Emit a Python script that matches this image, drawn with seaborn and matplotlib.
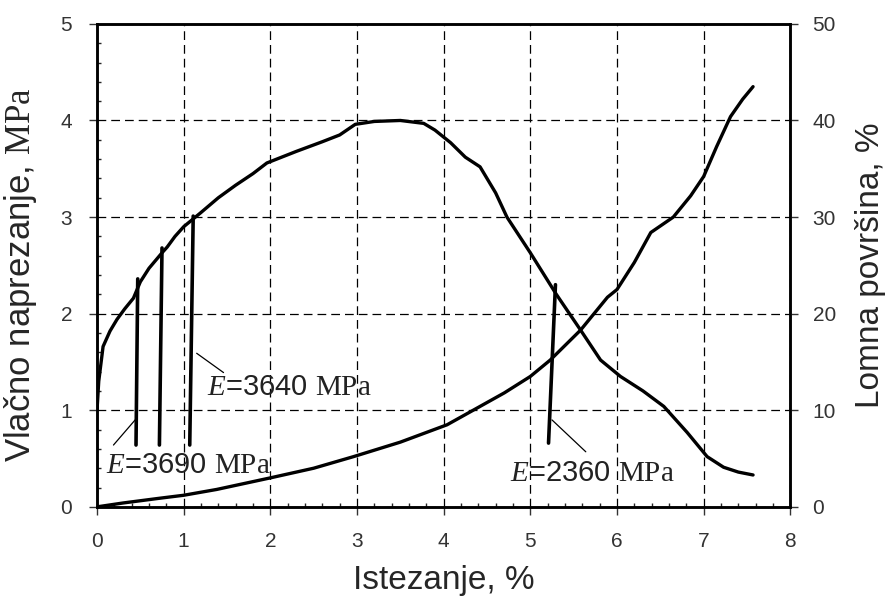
import matplotlib
matplotlib.use("Agg")
import matplotlib.pyplot as plt
from matplotlib.ticker import MultipleLocator
import pandas as pd
import seaborn as sns

# stress-strain curve (left axis)
strain_s = [0.0, 0.02, 0.07, 0.15, 0.23, 0.32, 0.42, 0.5, 0.6, 0.75, 0.81, 0.9, 1.0, 1.19,
            1.4, 1.6, 1.8, 1.96, 2.3, 2.6, 2.8, 2.98, 3.2, 3.5, 3.77, 3.9, 4.08, 4.25,
            4.42, 4.6, 4.73, 5.0, 5.3, 5.58, 5.81, 6.04, 6.3, 6.54, 6.81, 7.04, 7.23,
            7.4, 7.57]
stress = [1.0, 1.3, 1.66, 1.82, 1.94, 2.05, 2.16, 2.33, 2.47, 2.63, 2.69, 2.8, 2.9, 3.04,
          3.2, 3.33, 3.45, 3.56, 3.68, 3.78, 3.85, 3.96, 3.99, 4.0, 3.97, 3.9, 3.77, 3.62,
          3.52, 3.25, 3.0, 2.63, 2.2, 1.83, 1.52, 1.35, 1.2, 1.04, 0.77, 0.52, 0.41,
          0.36, 0.33]

# fracture area curve (right axis)
strain_a = [0.0, 0.3, 0.73, 1.0, 1.38, 2.0, 2.5, 2.96, 3.5, 4.04, 4.42, 4.7, 5.0, 5.23,
            5.58, 5.89, 6.0, 6.2, 6.39, 6.65, 6.85, 7.0, 7.15, 7.31, 7.45, 7.57]
area = [0.0, 0.4, 0.9, 1.2, 1.8, 3.0, 4.0, 5.2, 6.7, 8.5, 10.4, 11.8, 13.5, 15.2,
        18.3, 21.7, 22.5, 25.3, 28.4, 30.0, 32.2, 34.2, 37.3, 40.4, 42.2, 43.5]

# modulus lines: (x_bottom, y_bottom, x_top, y_top)
mod_lines = [(0.45, 0.64, 0.47, 2.36),
             (0.72, 0.64, 0.75, 2.68),
             (1.07, 0.64, 1.11, 3.01),
             (5.21, 0.66, 5.29, 2.3)]

# labels: text, text x, text y, leader start, leader end
labels = [("$E$=3640 $\\mathrm{MPa}$", 1.27, 1.24, (1.15, 1.59), (1.46, 1.39)),
          ("$E$=3690 $\\mathrm{MPa}$", 0.1, 0.43, (0.44, 0.9), (0.19, 0.64)),
          ("$E$=2360 $\\mathrm{MPa}$", 4.77, 0.35, (5.25, 0.9), (5.64, 0.57))]

sns.set_theme(style="white")
plt.rcParams['font.family'] = ['Liberation Sans', 'DejaVu Sans']
plt.rcParams['mathtext.fontset'] = 'custom'
plt.rcParams['mathtext.rm'] = 'Liberation Serif'
plt.rcParams['mathtext.it'] = 'Liberation Serif:italic'

fig = plt.figure(figsize=(8.9, 5.97), dpi=100)
ax = fig.add_axes([0.109, 0.151, 0.779, 0.809])
ax2 = ax.twinx()

df_s = pd.DataFrame({"x": strain_s, "y": stress})
df_a = pd.DataFrame({"x": strain_a, "y": area})
sns.lineplot(data=df_s, x="x", y="y", sort=False, color="black", lw=2.4, ax=ax)
sns.lineplot(data=df_a, x="x", y="y", sort=False, color="black", lw=2.4, ax=ax2)

for x0, y0, x1, y1 in mod_lines:
    ax.plot([x0, x1], [y0, y1], color="black", lw=2.6)

for txt, tx, ty, p0, p1 in labels:
    ax.plot([p0[0], p1[0]], [p0[1], p1[1]], color="black", lw=0.9)
    ax.text(tx, ty, txt, fontsize=21, va="center", ha="left", color="#222222")

ax.set_xlim(0, 8)
ax.set_ylim(0, 5)
ax2.set_ylim(0, 50)
ax.xaxis.set_major_locator(MultipleLocator(1))
ax.xaxis.set_minor_locator(MultipleLocator(0.2))
ax.yaxis.set_major_locator(MultipleLocator(1))
ax.yaxis.set_minor_locator(MultipleLocator(0.2))
ax2.yaxis.set_major_locator(MultipleLocator(10))

ax.grid(True, which="major", color="black", ls=(0, (7, 4)), lw=0.9)
for sp in list(ax.spines.values()) + list(ax2.spines.values()):
    sp.set_color("black")
    sp.set_linewidth(1.8)

ax.tick_params(which="major", direction="out", length=6, width=1, colors="#333333",
               labelsize=15, bottom=True, left=True, pad=12)
ax.tick_params(which="minor", direction="in", length=3, width=1, bottom=True, left=True)
ax2.tick_params(which="major", direction="out", length=6, width=1, colors="#333333",
                labelsize=15, right=True, pad=10)

ax.set_xlabel("Istezanje, %", fontsize=24, labelpad=10)
ax.set_ylabel("Vlačno naprezanje, $\\mathrm{MPa}$", fontsize=25)
ax.yaxis.set_label_coords(-0.083, 0.48)
ax2.set_ylabel("Lomna površina, %", fontsize=24, labelpad=14)

fig.savefig("out.png", dpi=100)
